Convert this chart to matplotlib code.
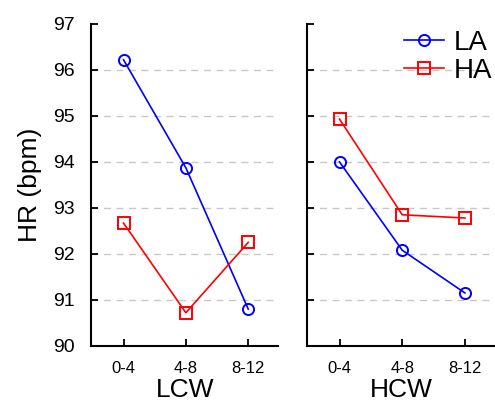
import matplotlib.pyplot as plt

plt.rcParams['font.family'] = ['Liberation Sans', 'DejaVu Sans']

groups = ['0-4', '4-8', '8-12']
lcw_la = [96.22, 93.87, 90.80]
lcw_ha = [92.67, 90.72, 92.25]
hcw_la = [94.00, 92.08, 91.15]
hcw_ha = [94.93, 92.85, 92.78]

fig = plt.figure(figsize=(4.95, 4.05), dpi=100)
ax1 = fig.add_axes([0.184, 0.146, 0.378, 0.795])
ax2 = fig.add_axes([0.620, 0.146, 0.380, 0.795])

x = range(len(groups))
for ax, la, ha, name in [(ax1, lcw_la, lcw_ha, 'LCW'), (ax2, hcw_la, hcw_ha, 'HCW')]:
    ax.plot(x, la, color='blue', marker='o', markersize=8, markerfacecolor='none',
            markeredgewidth=1.4, linewidth=1.2, label='LA')
    ax.plot(x, ha, color='red', marker='s', markersize=8, markerfacecolor='none',
            markeredgewidth=1.4, linewidth=1.2, label='HA')
    ax.set_xlim(-0.52, 2.48)
    ax.set_ylim(90, 97)
    ax.set_yticks(range(90, 98))
    ax.set_xticks(list(x))
    ax.set_xticklabels(groups, fontsize=12)
    ax.set_xlabel(name, fontsize=19, labelpad=1)
    ax.spines['top'].set_visible(False)
    ax.spines['right'].set_visible(False)
    ax.spines['left'].set_linewidth(1.5)
    ax.spines['bottom'].set_linewidth(1.5)
    ax.tick_params(direction='in', length=5, width=1.3, pad=11)
    ax.tick_params(axis='y', labelsize=14, pad=12)
    for v in range(91, 97):
        ax.axhline(v, color='#c8c8c8', linestyle=(0, (5, 4)), linewidth=1, zorder=0)

ax1.set_ylabel('HR (bpm)', fontsize=19, labelpad=8)
ax2.set_yticklabels([])
ax2.legend(loc='upper right', bbox_to_anchor=(1.0, 0.99), frameon=False, fontsize=20,
           handlelength=1.45, borderaxespad=0.0, borderpad=0.1,
           handletextpad=0.35, labelspacing=0.08)

fig.savefig('out.png', dpi=100)
